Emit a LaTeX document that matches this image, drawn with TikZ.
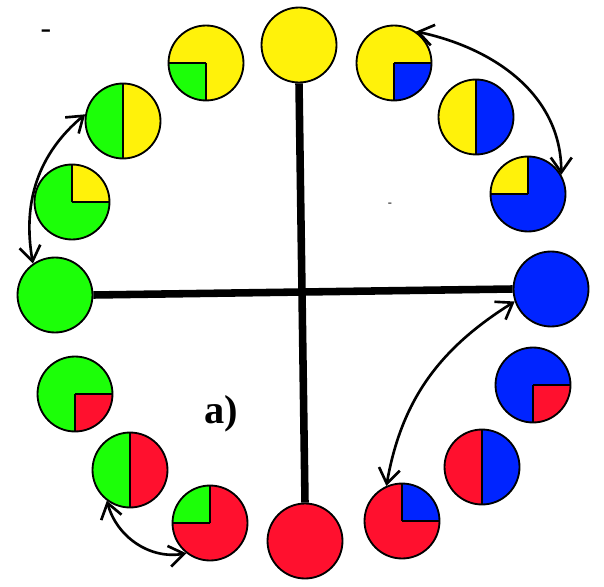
\documentclass[tikz,border=0pt]{standalone}
\usepackage{fontspec}
\setmainfont{Liberation Serif}
\usetikzlibrary{arrows.meta}
\definecolor{cyel}{RGB}{255,242,10}
\definecolor{cgrn}{RGB}{28,255,8}
\definecolor{cblu}{RGB}{0,36,255}
\definecolor{cred}{RGB}{255,16,46}

\begin{document}
\begin{tikzpicture}[
  x=0.02cm, y=-0.02cm,
  disc/.style={circle, draw, line width=1.05pt, minimum size=1.5cm, inner sep=0pt},
  pie/.style n args={3}{disc, fill=#1, path picture={
      \fill[#2] (path picture bounding box.center) -- ++(#3:1cm)
        arc[start angle=#3, delta angle=90, radius=1cm] -- cycle;
      \draw[line width=1.05pt] (path picture bounding box.center) -- ++(#3:1cm);
      \draw[line width=1.05pt] (path picture bounding box.center) -- ++(#3+90:1cm);}},
  half/.style 2 args={disc, fill=#1, path picture={
      \fill[#2] (path picture bounding box.north) rectangle (path picture bounding box.south east);
      \draw[line width=1.05pt] (path picture bounding box.north) -- (path picture bounding box.south);}},
  bar/.style={line width=4.3pt},
  link/.style={{Straight Barb[length=3mm,width=4.2mm]}-{Straight Barb[length=3mm,width=4.2mm]},
               line width=1.5pt}]

\useasboundingbox (0,0) rectangle (604,587);

% pure colours
\node[disc, fill=cyel] (Y0) at (299,45) {};
\node[disc, fill=cgrn] (G0) at (55,295) {};
\node[disc, fill=cblu] (B0) at (551,289) {};
\node[disc, fill=cred] (R0) at (305,541) {};

% yellow to green
\node[pie={cyel}{cgrn}{180}] (YG) at (206,63) {};
\node[half={cgrn}{cyel}] (GY) at (123,121) {};
\node[pie={cgrn}{cyel}{0}] (GYq) at (72,202) {};

% green to red
\node[pie={cgrn}{cred}{270}] (GR) at (75,394) {};
\node[half={cgrn}{cred}] (GRh) at (130,470) {};
\node[pie={cred}{cgrn}{90}] (RG) at (210,523) {};

% red to blue
\node[pie={cred}{cblu}{0}] (RB) at (402,521) {};
\node[half={cred}{cblu}] (RBh) at (482,467) {};
\node[pie={cblu}{cred}{270}] (BR) at (533,385) {};

% blue to yellow
\node[pie={cblu}{cyel}{90}] (BY) at (528,194) {};
\node[half={cyel}{cblu}] (YBh) at (476,117) {};
\node[pie={cyel}{cblu}{270}] (YB) at (394,63) {};

% cross
\draw[bar] (G0.east) -- (B0.west);
\draw[bar] (Y0.south) -- (R0.north);

% arrows
\draw[link] (G0.125) to[out=100, in=220] (GY.170);
\draw[link] (YB.55) to[out=-12, in=90] (BY.30);
\draw[link] (B0.199) to[out=212, in=80] (RB.114);
\draw[link] (GRh.233) to[out=285, in=190] (RG.232);

% labels
\node[font=\fontsize{23}{25}\selectfont\bfseries] (lab) at (221,414) {a)};
\node[font=\fontsize{18}{20}\selectfont, inner sep=0pt] (dashA) at (46,34) {-};
\node[font=\fontsize{7}{8}\selectfont, inner sep=0pt] (dashB) at (390,205) {-};
\end{tikzpicture}
\end{document}
